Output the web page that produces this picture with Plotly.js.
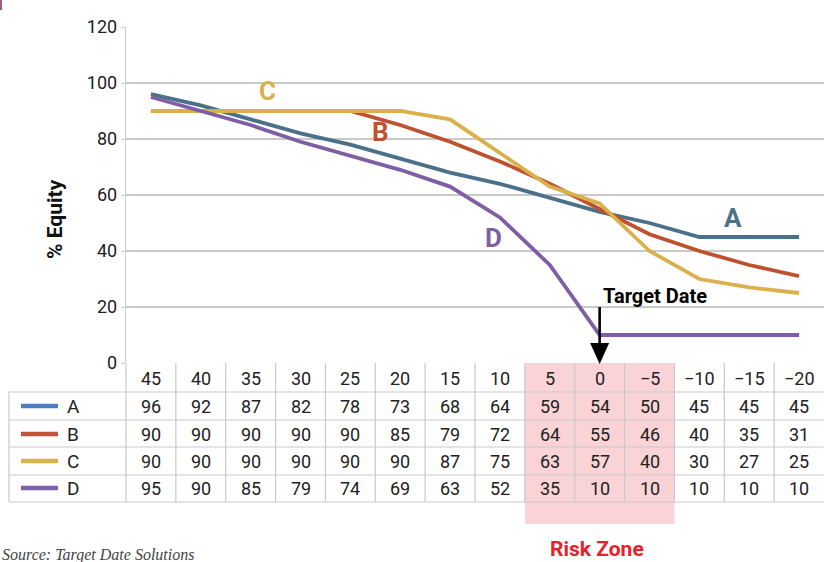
<!DOCTYPE html>
<html>
<head>
<meta charset="utf-8">
<script src="https://cdn.plot.ly/plotly-3.0.1.min.js"></script>
<style>html,body{margin:0;padding:0;background:#fff;}#chart{width:824px;height:562px;}</style>
</head>
<body>
<div id="chart"></div>
<script>
// ---- data ----
const yearsToTarget = ['45','40','35','30','25','20','15','10','5','0','\u22125','\u221210','\u221215','\u221220'];
const seriesNames = ['A','B','C','D'];
const seriesA = [96,92,87,82,78,73,68,64,59,54,50,45,45,45];
const seriesB = [90,90,90,90,90,85,79,72,64,55,46,40,35,31];
const seriesC = [90,90,90,90,90,90,87,75,63,57,40,30,27,25];
const seriesD = [95,90,85,79,74,69,63,52,35,10,10,10,10,10];
const riskZoneCats = ['5','0','\u22125'];
const targetCat = '0';
const yTicks = [0,20,40,60,80,100,120];

// ---- styling ----
const lineColors = ['#4a7189','#c0512f','#d9b04a','#7e5fa6'];
const legendColors = ['#4a80c2','#c0553b','#d9b34c','#7f60a8'];
const FONT = 'Roboto, "Liberation Sans", sans-serif';
const W = 824, H = 562, L = 126, T = 27, PW = 698, PH = 336;
const px = x => (x - L) / PW;
const py = y => (T + PH - y) / PH;
const nC = yearsToTarget.length;
const colX = k => k / nC;
const gridCol = '#c9c9c9';

const allSeries = [seriesA, seriesB, seriesC, seriesD];

const traces = allSeries.map((vals, i) => ({
  type: 'scatter', mode: 'lines', x: yearsToTarget, y: vals, name: seriesNames[i],
  line: {color: lineColors[i], width: 3.8}, hoverinfo: 'skip', showlegend: false
}));

const shapes = [];
const annotations = [];

// risk zone shading
const rz0 = yearsToTarget.indexOf(riskZoneCats[0]);
const rz1 = yearsToTarget.indexOf(riskZoneCats[riskZoneCats.length - 1]) + 1;
shapes.push({type: 'rect', xref: 'paper', yref: 'paper', x0: colX(rz0), x1: colX(rz1), y0: py(363), y1: py(524),
  fillcolor: '#f9d3d5', line: {width: 0}, layer: 'below'});

// table grid
const rowLines = [392, 420, 447, 475, 502];
rowLines.forEach(y => shapes.push({type: 'line', xref: 'paper', yref: 'paper', x0: px(9), x1: 1, y0: py(y), y1: py(y),
  line: {color: gridCol, width: 1.2}}));
for (let k = 0; k < nC; k++) {
  shapes.push({type: 'line', xref: 'paper', yref: 'paper', x0: colX(k), x1: colX(k), y0: py(363), y1: py(502),
    line: {color: gridCol, width: 1.2}});
}
shapes.push({type: 'line', xref: 'paper', yref: 'paper', x0: px(9), x1: px(9), y0: py(392), y1: py(502),
  line: {color: gridCol, width: 1.2}});

// header row (category index positions on the x axis)
const headerY = 378;
yearsToTarget.forEach((c, i) => annotations.push({x: i, xref: 'x', y: py(headerY), yref: 'paper', text: c, showarrow: false,
  font: {family: FONT, size: 18, color: '#222'}, xanchor: 'center', yanchor: 'middle'}));

// data rows
const rowCenters = [406, 434, 461, 488];
allSeries.forEach((vals, r) => {
  vals.forEach((v, i) => annotations.push({x: i, xref: 'x', y: py(rowCenters[r]), yref: 'paper',
    text: String(v), showarrow: false, font: {family: FONT, size: 18, color: '#222'}, xanchor: 'center', yanchor: 'middle'}));
  shapes.push({type: 'line', xref: 'paper', yref: 'paper', x0: px(21), x1: px(58), y0: py(rowCenters[r]), y1: py(rowCenters[r]),
    line: {color: legendColors[r], width: 4.5}});
  annotations.push({x: px(65), xref: 'paper', y: py(rowCenters[r]), yref: 'paper', text: seriesNames[r], showarrow: false,
    font: {family: FONT, size: 19, color: '#222'}, xanchor: 'left', yanchor: 'middle'});
});

// series labels
const labelPos = [[733, 218], [380, 132], [267, 91], [494, 238]];
seriesNames.forEach((n, i) => annotations.push({x: px(labelPos[i][0]), xref: 'paper', y: py(labelPos[i][1]), yref: 'paper',
  text: '<b>' + n + '</b>', showarrow: false, font: {family: FONT, size: 26, color: lineColors[i]}, xanchor: 'center', yanchor: 'middle'}));

// target date arrow
const tIdx = yearsToTarget.indexOf(targetCat);
const tx = (tIdx + 0.5) / nC;
shapes.push({type: 'line', xref: 'paper', yref: 'paper', x0: tx, x1: tx, y0: py(307), y1: py(346), line: {color: '#000', width: 2.6}});
shapes.push({type: 'path', xref: 'paper', yref: 'paper',
  path: `M ${tx - 9.5 / PW} ${py(343)} L ${tx + 9.5 / PW} ${py(343)} L ${tx} ${py(364)} Z`,
  fillcolor: '#000', line: {width: 0}});
annotations.push({x: px(655), xref: 'paper', y: py(296), yref: 'paper', text: '<b>Target Date</b>', showarrow: false,
  font: {family: FONT, size: 20, color: '#000'}, xanchor: 'center', yanchor: 'middle'});

// risk zone label
annotations.push({x: px(597), xref: 'paper', y: py(549), yref: 'paper', text: '<b>Risk Zone</b>', showarrow: false,
  font: {family: FONT, size: 21, color: '#e8202a'}, xanchor: 'center', yanchor: 'middle'});

// y-axis title
annotations.push({x: px(55), xref: 'paper', y: py(219), yref: 'paper', text: '<b>% Equity</b>', showarrow: false, textangle: -90,
  font: {family: FONT, size: 21, color: '#111'}, xanchor: 'center', yanchor: 'middle'});

// source
annotations.push({x: px(0), xref: 'paper', y: py(544), yref: 'paper', text: '<i>Source: Target Date Solutions</i>', showarrow: false,
  font: {family: '"Liberation Serif", serif', size: 16, color: '#444'}, xanchor: 'left', yanchor: 'top'});

// small corner mark
shapes.push({type: 'line', xref: 'paper', yref: 'paper', x0: px(1), x1: px(1), y0: py(0), y1: py(10), line: {color: '#a0607c', width: 2}});

const layout = {
  width: W, height: H,
  margin: {l: L, r: W - L - PW, t: T, b: H - T - PH, pad: 0},
  paper_bgcolor: '#fff', plot_bgcolor: '#fff',
  showlegend: false,
  xaxis: {type: 'category', range: [-0.5, nC - 0.5], showticklabels: false, showgrid: false, zeroline: false,
    showline: false, ticks: '', fixedrange: true},
  yaxis: {range: [0, 120], tickvals: yTicks, ticktext: yTicks.map(String), showgrid: true, gridcolor: gridCol, gridwidth: 1.2,
    zeroline: false, showline: true, linecolor: gridCol, linewidth: 1.2, ticks: 'outside', ticklen: 4, tickcolor: gridCol,
    tickfont: {family: FONT, size: 18, color: '#222'}, fixedrange: true},
  shapes: shapes,
  annotations: annotations
};

Plotly.newPlot('chart', traces, layout, {displayModeBar: false, staticPlot: true});
</script>
</body>
</html>
